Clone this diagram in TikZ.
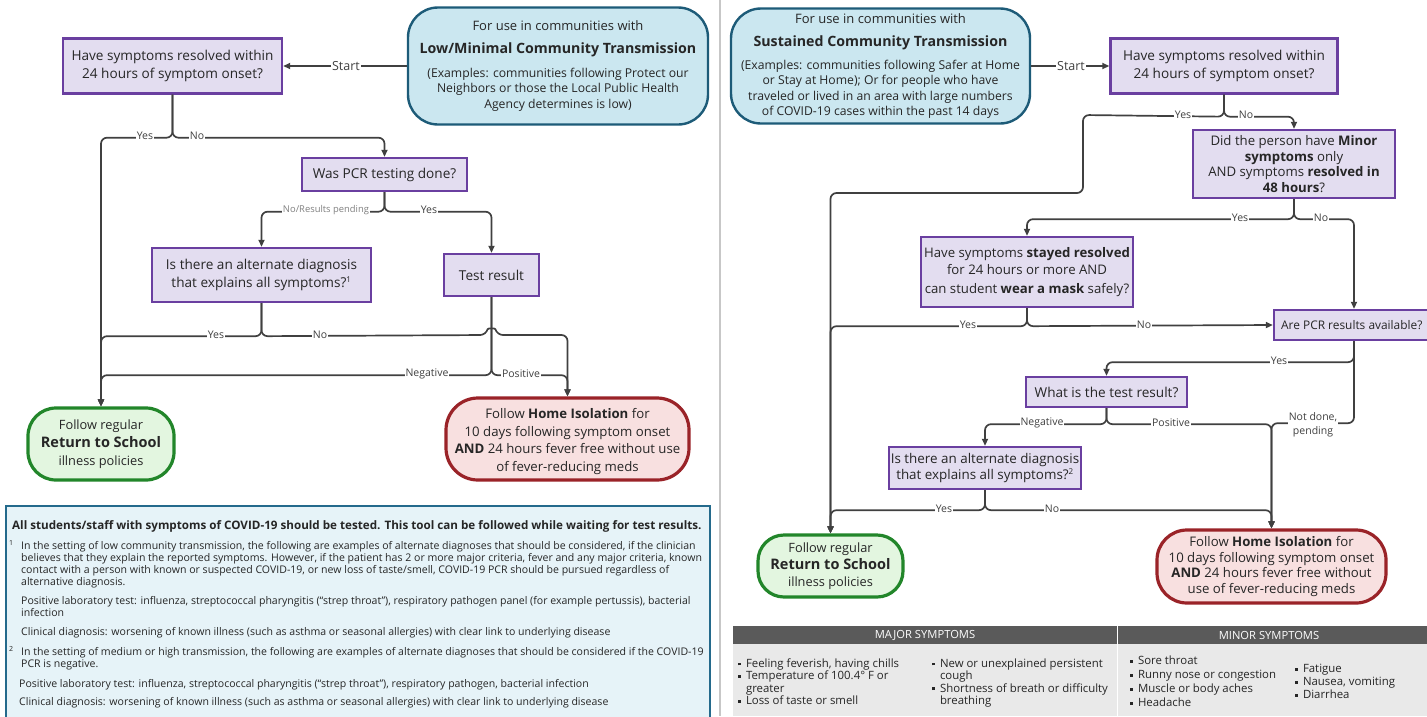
\documentclass[tikz,border=0pt]{standalone}
\usepackage{fontspec}
\setmainfont{Open Sans}
\usetikzlibrary{arrows.meta}
\definecolor{lav}{HTML}{E3DDF0}
\definecolor{purp}{HTML}{6A3FA0}
\definecolor{bluefill}{HTML}{CBE7F0}
\definecolor{blueline}{HTML}{1D5B78}
\definecolor{greenfill}{HTML}{E3F6E0}
\definecolor{greenline}{HTML}{22862A}
\definecolor{redfill}{HTML}{F8E0E0}
\definecolor{redline}{HTML}{9A2328}
\definecolor{conncol}{HTML}{404040}
\definecolor{txt}{HTML}{262626}
\definecolor{footfill}{HTML}{E6F3F8}
\definecolor{footline}{HTML}{246A8C}
\definecolor{hdr}{HTML}{5A5A5A}
\definecolor{tbody}{HTML}{E9E9E9}
\newcommand{\bsq}{\raisebox{2pt}{\rule{2.8pt}{2.8pt}}\hspace{5pt}}
\begin{document}
\begin{tikzpicture}[x=1pt,y=-1pt,
  qbox/.style={draw=purp, fill=lav, line width=2.4pt, align=center, text=txt,
    font=\fontsize{13.6}{17.5}\selectfont, inner sep=2pt},
  bluebox/.style={draw=blueline, fill=bluefill, line width=2.4pt, align=center, text=txt,
    rounded corners=30pt, inner sep=2pt, font=\fontsize{12.2}{15.5}\selectfont},
  retbox/.style={draw=greenline, fill=greenfill, line width=3.2pt, align=center, text=txt,
    rounded corners=28pt, inner sep=2pt, font=\fontsize{12.8}{18}\selectfont},
  homebox/.style={draw=redline, fill=redfill, line width=3.2pt, align=center, text=txt,
    rounded corners=32pt, inner sep=2pt, font=\fontsize{13.2}{17.7}\selectfont},
  conn/.style={draw=conncol, line width=1.7pt, rounded corners=6pt},
  arr/.style={conn, -{Triangle[length=7pt,width=6pt]}},
  lab/.style={fill=white, inner sep=1pt, text=conncol, font=\fontsize{10.5}{12}\selectfont},
  glab/.style={fill=white, inner sep=1pt, text=gray, font=\fontsize{9.4}{11}\selectfont},
  hdrtxt/.style={text=white, font=\fontsize{11.2}{13}\selectfont},
  coltxt/.style={anchor=north west, align=left, text=txt, inner sep=0pt,
    font=\fontsize{11.4}{12.4}\selectfont}
]
\useasboundingbox (0,0) rectangle (1427,716);
\clip (0,0) rectangle (1427,716);
\fill[white] (0,0) rectangle (1427,716);
% divider
\draw[draw=black!22, line width=2.5pt] (720,0) -- (720,716);

%%%%%%%%%%%%%%%% LEFT PANEL
\node[bluebox, minimum width=300pt, minimum height=117pt] (blueL) at (558,66) {%
  {\fontsize{13}{15}\selectfont For use in communities with}\\[8pt]
  {\fontsize{14.2}{15}\selectfont\bfseries Low/Minimal Community Transmission}\\[8pt]
  (Examples: communities following Protect our\\
  Neighbors or those the Local Public Health\\
  Agency determines is low)};
\node[qbox, minimum width=219pt, minimum height=55pt] (q1) at (172.5,66)
  {Have symptoms resolved within\\24 hours of symptom onset?};
\node[qbox, minimum width=165pt, minimum height=33pt] (pcr) at (384.5,174.5)
  {Was PCR testing done?};
\node[qbox, minimum width=219pt, minimum height=54pt] (alt1) at (261.5,275)
  {Is there an alternate diagnosis\\that explains all symptoms?\textsuperscript{\fontsize{8}{8}\selectfont 1}};
\node[qbox, minimum width=95pt, minimum height=42pt] (test) at (491.5,275)
  {Test result};
\node[retbox, minimum width=146pt, minimum height=72pt] (ret1) at (101,444)
  {Follow regular\\{\fontsize{14.5}{18}\selectfont\bfseries Return to School}\\illness policies};
\node[homebox, minimum width=243pt, minimum height=82pt] (home1) at (567.5,439)
  {\rule{0pt}{15pt}Follow {\bfseries Home Isolation} for\\10 days following symptom onset\\{\bfseries AND} 24 hours fever free without use\\of fever-reducing meds};

% connectors left
\draw[arr] (blueL.west) -- (q1.east);
\node[lab, font=\fontsize{12.5}{13}\selectfont] (lS1) at (346,66) {Start};
\draw[arr] (q1.south) -- ++(0,43) -| (ret1.north);
\draw[arr] (q1.south) -- ++(0,43) -| (pcr.north);
\node[lab] (lY1) at (145,136) {Yes};
\node[lab] (lN1) at (197,136) {No};
\draw[arr] (pcr.south) -- ++(0,19.5) -| (alt1.north);
\draw[arr] (pcr.south) -- ++(0,19.5) -| (test.north);
\node[glab] (lNR) at (326,210) {No/Results pending};
\node[lab] (lY2) at (429,210) {Yes};
\draw[arr] (alt1.south) -- ++(0,33) -| (ret1.north);
\coordinate (hopL) at (486,335);
\coordinate (hopR) at (497,335);
\draw[arr] (alt1.south) -- ++(0,33) -- (hopL) .. controls (488,328) and (495,328) .. (hopR) -| (home1.north);
\node[lab] (lY3) at (216,335) {Yes};
\node[lab] (lN3) at (320,335) {No};
\draw[arr] (test.south) -- ++(0,78) -| (ret1.north);
\draw[arr] (test.south) -- ++(0,78) -| (home1.north);
\node[lab] (lNeg1) at (427,374) {Negative};
\node[lab] (lPos1) at (521,374) {Positive};

% footnote box
\node[draw=footline, fill=footfill, line width=2pt, minimum width=704pt, minimum height=220pt,
  anchor=north west, inner sep=0pt] (foot) at (5,505) {};
\node[anchor=north west, align=left, text=txt, inner sep=0pt,
  font=\fontsize{10.55}{11.7}\selectfont] (fntext) at (9,520) {%
\hspace*{3pt}{\fontsize{11.65}{12}\selectfont\bfseries All students/staff with symptoms of COVID-19 should be tested. This tool can be followed while waiting for test results.}\\[8pt]
\makebox[12pt][l]{\raisebox{4pt}{\fontsize{7}{7}\selectfont 1}}In the setting of low community transmission, the following are examples of alternate diagnoses that should be considered, if the clinician\\
\hspace*{12pt}believes that they explain the reported symptoms. However, if the patient has 2 or more major criteria, fever and any major criteria, known\\
\hspace*{12pt}contact with a person with known or suspected COVID-19, or new loss of taste/smell, COVID-19 PCR should be pursued regardless of\\
\hspace*{12pt}alternative diagnosis.\\[8pt]
\hspace*{12pt}Positive laboratory test: influenza, streptococcal pharyngitis (“strep throat”), respiratory pathogen panel (for example pertussis), bacterial\\
\hspace*{12pt}infection\\[7pt]
\hspace*{12pt}Clinical diagnosis: worsening of known illness (such as asthma or seasonal allergies) with clear link to underlying disease\\[9pt]
\makebox[12pt][l]{\raisebox{4pt}{\fontsize{7}{7}\selectfont 2}}In the setting of medium or high transmission, the following are examples of alternate diagnoses that should be considered if the COVID-19\\
\hspace*{12pt}PCR is negative.\\[8pt]
\hspace*{10pt}Positive laboratory test: influenza, streptococcal pharyngitis (“strep throat”), respiratory pathogen, bacterial infection\\[7pt]
\hspace*{10pt}Clinical diagnosis: worsening of known illness (such as asthma or seasonal allergies) with clear link to underlying disease};

%%%%%%%%%%%%%%%% RIGHT PANEL
\node[bluebox, minimum width=299pt, minimum height=115pt] (blueR) at (880.5,66) {%
  {\fontsize{13}{15}\selectfont For use in communities with}\\[8pt]
  {\fontsize{14.2}{15}\selectfont\bfseries Sustained Community Transmission}\\[7pt]
  (Examples: communities following Safer at Home\\
  or Stay at Home); Or for people who have\\
  traveled or lived in an area with large numbers\\
  of COVID-19 cases within the past 14 days};
\node[qbox, minimum width=227pt, minimum height=55pt] (r1) at (1224,66)
  {Have symptoms resolved within\\24 hours of symptom onset?};
\node[qbox, minimum width=202pt, minimum height=68pt, font=\fontsize{13.2}{15.8}\selectfont] (r2) at (1294,164)
  {Did the person have {\bfseries Minor}\\{\bfseries symptoms} only\\AND symptoms {\bfseries resolved in}\\{\bfseries 48 hours}?};
\node[qbox, minimum width=212pt, minimum height=70pt, font=\fontsize{13.2}{17}\selectfont] (r3) at (1027,272)
  {Have symptoms {\bfseries stayed resolved}\\for 24 hours or more AND\\[2pt]can student {\bfseries wear a mask} safely?};
\node[qbox, minimum width=160pt, minimum height=30pt] (pcrav) at (1354,325) {};
\node[anchor=west, text=txt, inner sep=0pt, font=\fontsize{11.9}{14}\selectfont] (pcravt) at (1281,325)
  {Are PCR results available?};
\node[qbox, minimum width=161pt, minimum height=30pt] (test2) at (1106.5,392)
  {What is the test result?};
\node[qbox, minimum width=192pt, minimum height=42pt, font=\fontsize{13.4}{16}\selectfont] (alt2) at (985,468)
  {Is there an alternate diagnosis\\that explains all symptoms?\textsuperscript{\fontsize{8}{8}\selectfont 2}};
\node[retbox, minimum width=145pt, minimum height=62pt, rounded corners=26pt, font=\fontsize{12.8}{17}\selectfont] (ret2) at (830.5,566)
  {Follow regular\\{\fontsize{14.5}{17}\selectfont\bfseries Return to School}\\illness policies};
\node[homebox, minimum width=229pt, minimum height=73pt, rounded corners=30pt, font=\fontsize{13.2}{15.5}\selectfont] (home2) at (1271.5,566.5)
  {Follow {\bfseries Home Isolation} for\\10 days following symptom onset\\{\bfseries AND} 24 hours fever free without\\use of fever-reducing meds};

% connectors right
\draw[arr] (blueR.east) -- (r1.west);
\node[lab, font=\fontsize{12.5}{13}\selectfont] (lS2) at (1071,66) {Start};
\coordinate (rj1) at (1083,115);
\coordinate (rj2) at (1083,193);
\draw[arr] (r1.south) -- ++(0,22) -- (rj1) -- (rj2) -| (ret2.north);
\draw[arr] (r1.south) -- ++(0,22) -| (r2.north);
\node[lab] (lY4) at (1183,115) {Yes};
\node[lab] (lN4) at (1246,115) {No};
\draw[arr] (r2.south) -- ++(0,20) -| (r3.north);
\draw[arr] (r2.south) -- ++(0,20) -| (pcrav.north);
\node[lab] (lY5) at (1240,218) {Yes};
\node[lab] (lN5) at (1321,218) {No};
\draw[arr] (r3.south) -- ++(0,18) -| (ret2.north);
\draw[arr] (r3.south) -- ++(0,18) -- (pcrav.west);
\node[lab] (lY6) at (968,325) {Yes};
\node[lab] (lN6) at (1144,325) {No};
\draw[arr] (pcrav.south) -- ++(0,21) -| (test2.north);
\draw[arr] (pcrav.south) -- ++(0,82) -| (home2.north);
\node[lab] (lY7) at (1279,361) {Yes};
\node[lab, align=center, font=\fontsize{10.5}{14}\selectfont] (lND) at (1313,425) {Not done,\\pending};
\draw[arr] (test2.south) -- ++(0,16) -| (alt2.north);
\draw[arr] (test2.south) -- ++(0,16) -| (home2.north);
\node[lab] (lNeg2) at (1042,423) {Negative};
\node[lab] (lPos2) at (1171,423) {Positive};
\draw[arr] (alt2.south) -- ++(0,20) -| (ret2.north);
\draw[arr] (alt2.south) -- ++(0,20) -| (home2.north);
\node[lab] (lY8) at (944,509) {Yes};
\node[lab] (lN8) at (1052,509) {No};

% symptoms table
\fill[hdr] (733,626) rectangle (1430,644);
\fill[tbody] (733,644) rectangle (1430,716);
\draw[white, line width=1pt] (1117,626) -- (1117,716);
\node[hdrtxt] (hMaj) at (925,635) {MAJOR SYMPTOMS};
\node[hdrtxt] (hMin) at (1269,635) {MINOR SYMPTOMS};
\node[coltxt] (c1) at (738,658.5) {\bsq Feeling feverish, having chills\\\bsq Temperature of 100.4° F or\\\hspace*{7.8pt}greater\\\bsq Loss of taste or smell};
\node[coltxt] (c2) at (932,658.5) {\bsq New or unexplained persistent\\\hspace*{7.8pt}cough\\\bsq Shortness of breath or difficulty\\\hspace*{7.8pt}breathing};
\node[coltxt] (c3) at (1130,656) {\bsq Sore throat\\[1.5pt]\bsq Runny nose or congestion\\[1.5pt]\bsq Muscle or body aches\\[1.5pt]\bsq Headache};
\node[coltxt] (c4) at (1295,664) {\bsq Fatigue\\[0.6pt]\bsq Nausea, vomiting\\[0.6pt]\bsq Diarrhea};
\end{tikzpicture}
\end{document}
